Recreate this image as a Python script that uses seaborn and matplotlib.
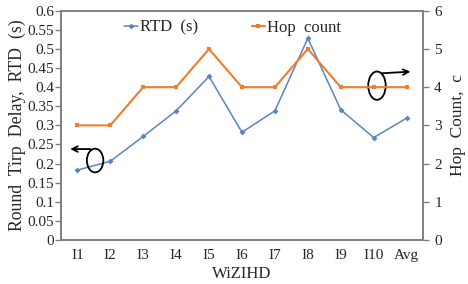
import numpy as np
import pandas as pd
import seaborn as sns
import matplotlib.pyplot as plt
from matplotlib.patches import Ellipse

sns.set_style("white")
plt.rcParams['font.family'] = ['Liberation Serif', 'DejaVu Serif']

# data
nodes = ['I1', 'I2', 'I3', 'I4', 'I5', 'I6', 'I7', 'I8', 'I9', 'I10', 'Avg']
rtd = [0.183, 0.206, 0.271, 0.338, 0.428, 0.282, 0.338, 0.528, 0.341, 0.268, 0.319]
hops = [3, 3, 4, 4, 5, 4, 4, 5, 4, 4, 4]

df = pd.DataFrame({'node': nodes, 'pos': np.arange(len(nodes)), 'rtd': rtd, 'hops': hops})

blue = '#5B84C0'
orange = '#F07C2C'
gray = '#808080'

fig, ax = plt.subplots(figsize=(4.68, 2.84), dpi=100)
fig.subplots_adjust(left=0.13, right=0.904, top=0.962, bottom=0.155)
ax2 = ax.twinx()

sns.lineplot(data=df, x='pos', y='rtd', ax=ax, color=blue, marker='D', markersize=3,
             markeredgewidth=0, lw=1.1, label='RTD  (s)', legend=False)
sns.lineplot(data=df, x='pos', y='hops', ax=ax2, color=orange, marker='s', markersize=3,
             markeredgewidth=0, lw=1.5, label='Hop  count', legend=False)

ax.set_xlim(-0.5, len(nodes) - 0.5)
ax.set_ylim(0, 0.6)
ax.set_yticks(np.arange(0, 0.61, 0.05))
ax.set_yticklabels(['0', '0.05', '0.1', '0.15', '0.2', '0.25', '0.3', '0.35', '0.4',
                    '0.45', '0.5', '0.55', '0.6'])
ax2.set_ylim(0, 6)
ax2.set_yticks(range(0, 7))
ax.set_xticks(df['pos'])
ax.set_xticklabels(nodes)

ax.set_xlabel('WiZIHD', fontsize=12, labelpad=3)
ax.set_ylabel('Round  Tirp  Delay,  RTD  (s)', fontsize=12.8, labelpad=1)
ax2.set_ylabel('Hop  Count,  c', fontsize=12.5, labelpad=6)

for a in (ax, ax2):
    for s in a.spines.values():
        s.set_color(gray)
        s.set_linewidth(1.2)
ax.tick_params(axis='y', which='both', left=True, length=4, color=gray, width=1, labelsize=11, pad=1)
ax.tick_params(axis='x', bottom=False, labelsize=11, pad=3)
ax2.tick_params(axis='y', right=True, length=4, color=gray, width=1, labelsize=11, pad=4)

h1, l1 = ax.get_legend_handles_labels()
h2, l2 = ax2.get_legend_handles_labels()
ax.legend(h1 + h2, l1 + l2, loc='center left', ncol=2, frameon=False, fontsize=12,
          handlelength=0.8, handletextpad=0.15, columnspacing=3.2,
          bbox_to_anchor=(0.175, 0.926), borderaxespad=0, borderpad=0)

# pointer marks: which axis each series belongs to
ax.add_patch(Ellipse((0.54, 0.208), 0.5, 0.062, fill=False, ec='black', lw=1.3, zorder=5))
ax.annotate('', xy=(-0.3, 0.238), xytext=(0.48, 0.238),
            arrowprops=dict(arrowstyle='->', color='black', lw=1.3))
ax.add_patch(Ellipse((9.1, 0.404), 0.53, 0.074, fill=False, ec='black', lw=1.3, zorder=5))
ax.annotate('', xy=(10.2, 0.441), xytext=(9.15, 0.436),
            arrowprops=dict(arrowstyle='->', color='black', lw=1.3))

plt.savefig('out.png', dpi=100)
